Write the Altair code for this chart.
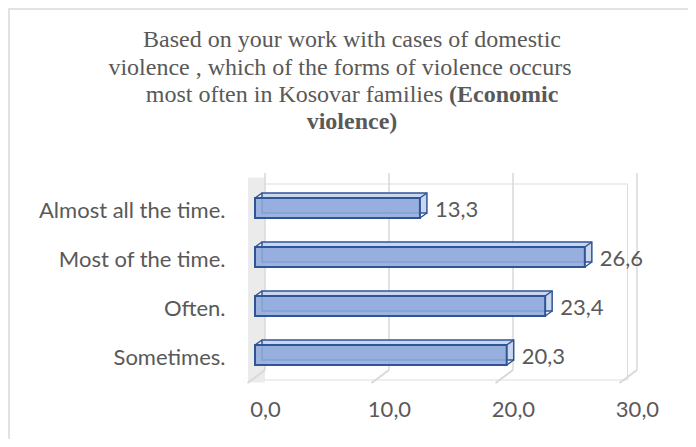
import altair as alt
import pandas as pd

CATEGORIES = ["Almost all the time.", "Most of the time.", "Often.", "Sometimes."]
VALUES = [13.3, 26.6, 23.4, 20.3]
TICKS = [0, 10, 20, 30]
TITLE_LINES = [
    "Based on your work with cases of domestic",
    "violence , which of the forms of violence occurs",
    "most often in Kosovar families",
    "(Economic",
    "violence)",
]

W, H = 372, 196
GRAY = "#595959"
LABEL_FONT = "Lato"
LABEL_SIZE = 22
TITLE_FONT = "Liberation Serif"
TITLE_SIZE = 24

df = pd.DataFrame({"cat": CATEGORIES, "v": VALUES})
ticks = pd.DataFrame({"v": TICKS})
one = pd.DataFrame({"a": [0]})

xscale = alt.Scale(domain=[0, 30], nice=False, zero=True)
xenc = alt.X("v:Q", scale=xscale,
             axis=alt.Axis(values=TICKS, grid=False, domain=False, ticks=False,
                           labelExpr="replace(format(datum.value,'.1f'),'.',',')",
                           labelFlush=False, labelOffset=10, labelPadding=20,
                           labelFont=LABEL_FONT, labelFontSize=LABEL_SIZE,
                           labelColor=GRAY, title=None))
yenc = alt.Y("cat:N", sort=CATEGORIES,
             scale=alt.Scale(paddingInner=0, paddingOuter=0),
             axis=alt.Axis(domain=False, ticks=False, labelPadding=30, labelOffset=3,
                           labelFont=LABEL_FONT, labelFontSize=LABEL_SIZE,
                           labelColor=GRAY, title=None, labelLimit=300))

border = alt.Chart(one).mark_rect(fill=None, stroke="#d9d9d9", strokeWidth=1.5).encode(
    x=alt.value(-246), x2=alt.value(W + 200), y=alt.value(-174.5), y2=alt.value(H + 200))

wall = alt.Chart(one).mark_rect(fill="#ebebeb").encode(
    x=alt.value(-7), x2=alt.value(10), y=alt.value(-6), y2=alt.value(H + 3))

grid = alt.Chart(ticks).mark_rule(color="#d9d9d9", strokeWidth=1.5, xOffset=10).encode(
    x=alt.X("v:Q", scale=xscale), y=alt.value(-10.5), y2=alt.value(H - 9.5))

floor = alt.Chart(ticks).mark_rule(color="#d9d9d9", strokeWidth=2, xOffset=10, x2Offset=-7.5).encode(
    x=alt.X("v:Q", scale=xscale), x2="v:Q", y=alt.value(H - 9.5), y2=alt.value(H + 3.5))

base = alt.Chart(df)

back = base.mark_bar(size=20, xOffset=7, x2Offset=7, yOffset=-5, fill="#c9d6ee",
                     stroke="#2F5597", strokeWidth=1.5).encode(x=xenc, y=yenc)

front = base.mark_bar(size=20, fill="#8FAADC", fillOpacity=0.88,
                      stroke="#2F5597", strokeWidth=2).encode(x=xenc, y=yenc)

diag_tr = base.mark_rule(color="#2F5597", strokeWidth=1.5, x2Offset=7, yOffset=-10, y2Offset=-15).encode(
    x=alt.X("v:Q", scale=xscale), x2="v:Q", y=alt.Y("cat:N", sort=CATEGORIES), y2="cat:N")
diag_br = base.mark_rule(color="#2F5597", strokeWidth=1.5, x2Offset=7, yOffset=10, y2Offset=5).encode(
    x=alt.X("v:Q", scale=xscale), x2="v:Q", y=alt.Y("cat:N", sort=CATEGORIES), y2="cat:N")
diag_tl = base.mark_rule(color="#2F5597", strokeWidth=1.5, x2Offset=7, yOffset=-10, y2Offset=-15).encode(
    x=alt.datum(0, scale=xscale), x2=alt.datum(0), y=alt.Y("cat:N", sort=CATEGORIES), y2="cat:N")

values = base.transform_calculate(
    lab="replace(format(datum.v,'.1f'),'.',',')"
).mark_text(align="left", baseline="middle", dx=15, dy=2, font=LABEL_FONT,
            fontSize=LABEL_SIZE, color=GRAY).encode(
    x=alt.X("v:Q", scale=xscale), y=alt.Y("cat:N", sort=CATEGORIES), text="lab:N")

def tline(text, x, y, align="center", weight="normal"):
    return alt.Chart(one).mark_text(align=align, baseline="alphabetic", font=TITLE_FONT,
                                    fontSize=TITLE_SIZE, fontWeight=weight, color=GRAY).encode(
        x=alt.value(x), y=alt.value(y), text=alt.value(text))

titles = [
    tline(TITLE_LINES[0], 97, -136.5),
    tline(TITLE_LINES[1], 85, -108.5),
    tline(TITLE_LINES[2], 188, -81.5, align="right"),
    tline(TITLE_LINES[3], 194, -81.5, align="left", weight="bold"),
    tline(TITLE_LINES[4], 97, -54.5, weight="bold"),
]

chart = alt.layer(border, wall, grid, floor, back, front, diag_tr, diag_br, diag_tl, values, *titles).properties(
    width=W, height=H,
    autosize=alt.AutoSizeParams(type="none"),
    padding={"left": 247, "top": 175.5, "right": 61, "bottom": 59.5},
).configure_view(stroke=None).configure(background="white")

chart.save("out.html", embed_options={"renderer": "svg", "actions": False})
